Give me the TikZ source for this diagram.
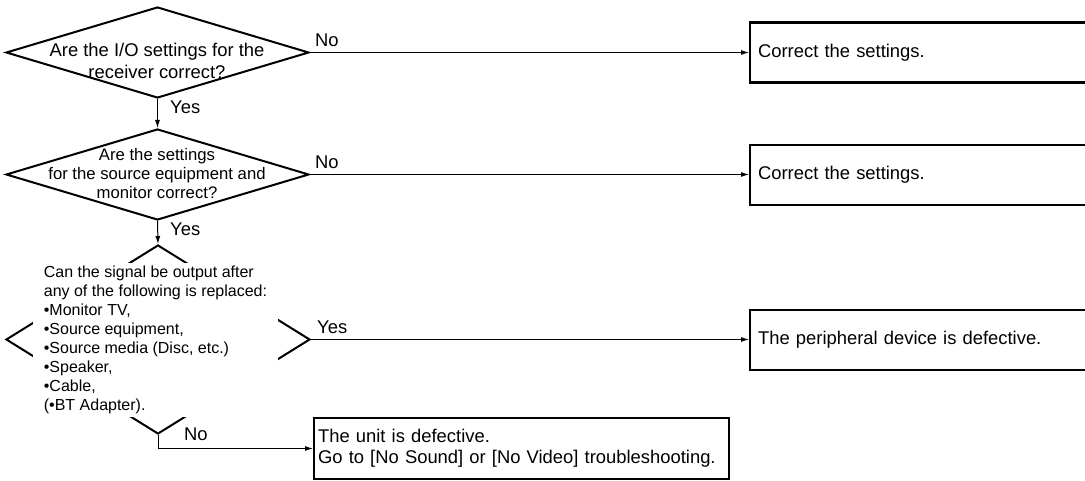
\documentclass[tikz,border=0pt]{standalone}
\usepackage{fontspec}
\setmainfont{Liberation Sans}
\usetikzlibrary{shapes.geometric,arrows.meta}

\begin{document}
\begin{tikzpicture}[x=1pt,y=-1pt,
  decision/.style={diamond,draw,line width=2pt,inner sep=0pt,minimum width=303pt,minimum height=91pt},
  result/.style={rectangle,draw,line width=2.2pt,anchor=west,align=left,inner xsep=8pt,minimum height=60pt,text width=340pt,font=\fontsize{18.4}{21}\selectfont},
  flow/.style={line width=1pt,-{Latex[length=8pt,width=5pt]}},
  lbl/.style={anchor=west,inner sep=0pt,font=\fontsize{18.4}{21}\selectfont}]
  \useasboundingbox (0,0) rectangle (1085,481);
  \clip (0,0) rectangle (1085,481);
  \node[decision] (d1) at (157.5,52.5) {};
  \node[decision] (d2) at (157.5,174.5) {};
  \node[decision,minimum width=304pt,minimum height=189pt] (d3) at (158,339.5) {};
  \node[align=center,font=\fontsize{18.4}{22}\selectfont] (q1) at (157,61) {Are the I/O settings for the\\receiver correct?};
  \node[align=center,font=\fontsize{16.7}{19}\selectfont] (q2) at (157,174) {Are the settings\\for the source equipment and\\monitor correct?};
  \node[fill=white,align=left,minimum width=245pt,minimum height=154pt,inner sep=0pt,font=\fontsize{16}{19.1}\selectfont] (q3) at (155.5,340) {Can the signal be output after\\any of the following is replaced:\\•Monitor TV,\\•Source equipment,\\•Source media (Disc, etc.)\\•Speaker,\\•Cable,\\(•BT Adapter).};
  \node[result] (fix1) at (749,52.5) {Correct the settings.};
  \node[result] (fix2) at (749,175) {Correct the settings.};
  \node[result] (bad) at (749,340) {The peripheral device is defective.};
  \node[result,text width=407pt,inner xsep=4pt,minimum height=61pt] (unit) at (313,448.5) {The unit is defective.\\Go to [No Sound] or [No Video] troubleshooting.};
  \node[lbl] (no1) at (315,40) {No};
  \node[lbl] (no2) at (315,162) {No};
  \node[lbl] (yes1) at (170,107) {Yes};
  \node[lbl] (yes2) at (170,229) {Yes};
  \node[lbl] (yes3) at (317,327) {Yes};
  \node[lbl] (no3) at (184,434) {No};
  \draw[flow] (d1.south) -- (d2.north);
  \draw[flow] (d2.south) -- (d3.north);
  \draw[flow] (d1.east) -- (d1.east -| fix1.west);
  \draw[flow] (d2.east) -- (d2.east -| fix2.west);
  \draw[flow] (d3.east) -- (d3.east -| bad.west);
  \draw[flow] (d3.south) |- (unit.west);
\end{tikzpicture}
\end{document}
